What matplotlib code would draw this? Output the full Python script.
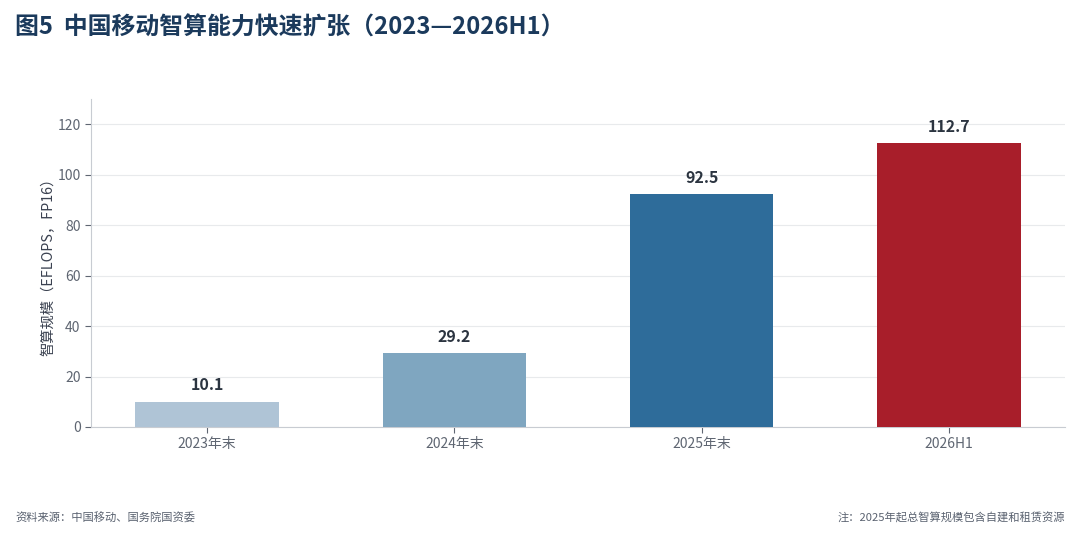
import matplotlib
matplotlib.use("Agg")
import matplotlib.pyplot as plt

plt.rcParams['font.family'] = ['Noto Sans CJK SC', 'DejaVu Sans']

categories = ["2023年末", "2024年末", "2025年末", "2026H1"]
values = [10.1, 29.2, 92.5, 112.7]
colors = ["#AFC4D6", "#7FA6C0", "#2E6C9A", "#A81E2A"]
yticks = [0, 20, 40, 60, 80, 100, 120]

fig = plt.figure(figsize=(10.8, 5.4), dpi=100)
ax = fig.add_axes([91/1080, 1-427/540, (1065-91)/1080, (427-99)/540])

x = list(range(len(categories)))
ax.bar(x, values, width=0.58, color=colors, zorder=3)
for xi, v in zip(x, values):
    ax.text(xi, v + 3.2, f"{v:.1f}", ha="center", va="bottom", fontsize=11.5,
            fontweight="bold", color="#2B3440")

ax.set_xlim(-0.47, 3.47)
ax.set_ylim(0, 130)
ax.set_yticks(yticks)
ax.set_xticks(x)
ax.set_xticklabels(categories)
ax.tick_params(axis="both", colors="#5F6672", labelsize=10, length=4, color="#5F6672")
ax.grid(axis="y", color="#E8EAEC", linewidth=0.8, zorder=0)
for s in ["top", "right"]:
    ax.spines[s].set_visible(False)
for s in ["left", "bottom"]:
    ax.spines[s].set_color("#C8CCD2")
ax.set_ylabel("智算规模（EFLOPS，FP16）", fontsize=10.3, color="#3A4150", labelpad=1)

fig.text(15/1080, 1-28/540, "图5  中国移动智算能力快速扩张（2023—2026H1）", fontsize=17.2,
         fontweight="bold", color="#1B3A5C", ha="left", va="center")
fig.text(15/1080, 1-518/540, "资料来源：中国移动、国务院国资委", fontsize=8.1,
         color="#5A6270", ha="left", va="center")
fig.text(1065/1080, 1-518/540, "注：2025年起总智算规模包含自建和租赁资源", fontsize=8.1,
         color="#5A6270", ha="right", va="center")

fig.savefig("out.png", dpi=100)
